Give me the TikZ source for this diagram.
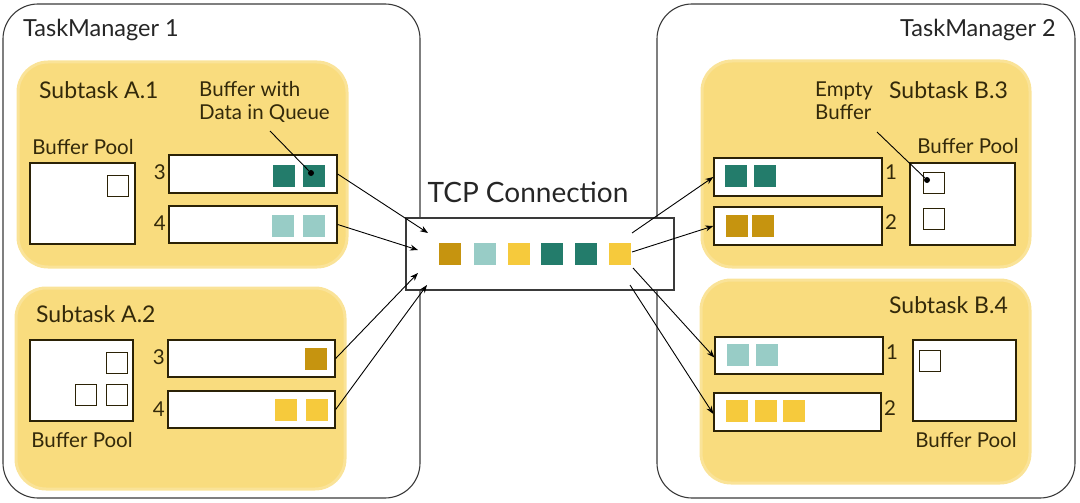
\documentclass[tikz,border=0pt]{standalone}
\usepackage{fontspec}
\setmainfont{Lato}
\usetikzlibrary{fit,arrows.meta}
\definecolor{tmline}{HTML}{3A3A3A}
\definecolor{qline}{HTML}{2B2206}
\definecolor{subyellow}{HTML}{F9DC7E}
\definecolor{txtbrown}{HTML}{33290A}
\definecolor{dteal}{HTML}{237C6B}
\definecolor{lteal}{HTML}{98CCC6}
\definecolor{dgold}{HTML}{C6940F}
\definecolor{ygold}{HTML}{F6CA3C}
\begin{document}
\begin{tikzpicture}[x=1pt,y=-1pt,
  tm/.style={draw=tmline, line width=1.1pt, rounded corners=35pt, inner sep=0pt},
  sub/.style={fill=subyellow, draw=subyellow!80!white, line width=3pt, rounded corners=30pt, inner sep=0pt},
  qbox/.style={draw=qline, fill=white, line width=1.3pt, inner sep=0pt},
  slot/.style={draw=qline, fill=white, line width=1pt, minimum size=21pt, inner sep=0pt},
  dat/.style={minimum size=22pt, inner sep=0pt},
  conn/.style={-{Stealth[length=8pt,width=6pt]}, line width=0.9pt, black},
  big/.style={font=\fontsize{23.5}{28}\selectfont, text=black!85, inner sep=0pt},
  lbl/.style={font=\fontsize{23}{27}\selectfont, text=txtbrown, inner sep=0pt},
  small/.style={font=\fontsize{20.5}{23}\selectfont, text=txtbrown, inner sep=0pt},
  dot/.style={circle, fill=black, minimum size=6pt, inner sep=0pt},
  pointer/.style={line width=0.9pt, black}
]
\useasboundingbox (0,0) rectangle (1080,503);

% TaskManagers
\node[tm, fit={(3,4)(420,498)}] (tm1) {};
\node[tm, fit={(657,4)(1075,498)}] (tm2) {};
\node[big, anchor=west] (tm1l) at (23,30) {TaskManager 1};
\node[big, anchor=east] (tm2l) at (1056,30) {TaskManager 2};

% Subtask boxes
\node[sub, fit={(18,62)(347,267)}] (sa1) {};
\node[sub, fit={(16,288)(345,489)}] (sa2) {};
\node[sub, fit={(702,61)(1030,267)}] (sb3) {};
\node[sub, fit={(701,280)(1030,483)}] (sb4) {};

\node[lbl, anchor=west] (sa1l) at (39,90) {Subtask A.1};
\node[lbl, anchor=west] (sa2l) at (36,314) {Subtask A.2};
\node[lbl, anchor=east] (sb3l) at (1008,90) {Subtask B.3};
\node[lbl, anchor=east] (sb4l) at (1008,305) {Subtask B.4};

% ---------- Subtask A.1
\node[small] (bpa1l) at (83,147) {Buffer Pool};
\node[qbox, fit={(30,163)(135,244)}] (bpa1) {};
\node[slot] (sa1s1) at (118,186) {};
\node[qbox, fit={(169,155)(337,193)}] (qa13) {};
\node[qbox, fit={(169,206)(337,243)}] (qa14) {};
\node[small, anchor=east] (qa13n) at (166,172) {3};
\node[small, anchor=east] (qa14n) at (166,223) {4};
\node[dat, fill=dteal] (a13d1) at (284,176) {};
\node[dat, fill=dteal] (a13d2) at (314,176) {};
\node[dat, fill=lteal] (a14d1) at (283,226) {};
\node[dat, fill=lteal] (a14d2) at (314,226) {};
\node[small, align=left, anchor=north west] (bwd) at (199,81) {Buffer with\\Data in Queue};
\node[dot] (dota) at (311,173) {};
\coordinate (pa) at (270,131);
\draw[pointer] (pa) -- (dota);

% ---------- Subtask A.2
\node[qbox, fit={(30,340)(133,421)}] (bpa2) {};
\node[slot] (sa2s1) at (117,363) {};
\node[slot] (sa2s2) at (86,395) {};
\node[slot] (sa2s3) at (117,395) {};
\node[small] (bpa2l) at (82,440) {Buffer Pool};
\node[qbox, fit={(168,340)(335,377)}] (qa23) {};
\node[qbox, fit={(168,391)(335,428)}] (qa24) {};
\node[small, anchor=east] (qa23n) at (165,357) {3};
\node[small, anchor=east] (qa24n) at (165,409) {4};
\node[dat, fill=dgold] (a23d1) at (316,359) {};
\node[dat, fill=ygold] (a24d1) at (286,410) {};
\node[dat, fill=ygold] (a24d2) at (317,410) {};

% ---------- Subtask B.3
\node[small, align=left, anchor=north west] (ebl) at (815,82) {Empty\\Buffer};
\node[small] (bpb3l) at (968,146) {Buffer Pool};
\node[qbox, fit={(910,163)(1015,245)}] (bpb3) {};
\node[slot] (sb3s1) at (934,183) {};
\node[slot] (sb3s2) at (934,219) {};
\node[qbox, fit={(714,158)(882,196)}] (qb31) {};
\node[qbox, fit={(714,207)(882,245)}] (qb32) {};
\node[small, anchor=west] (qb31n) at (885,172) {1};
\node[small, anchor=west] (qb32n) at (885,222) {2};
\node[dat, fill=dteal] (b31d1) at (736,176) {};
\node[dat, fill=dteal] (b31d2) at (765,176) {};
\node[dat, fill=dgold] (b32d1) at (737,226) {};
\node[dat, fill=dgold] (b32d2) at (763,226) {};
\node[dot] (dotb) at (927,180) {};
\coordinate (pb) at (877,132);
\draw[pointer] (pb) -- (dotb);

% ---------- Subtask B.4
\node[qbox, fit={(913,340)(1016,421)}] (bpb4) {};
\node[slot] (sb4s1) at (930,361) {};
\node[small] (bpb4l) at (966,440) {Buffer Pool};
\node[qbox, fit={(715,337)(883,374)}] (qb41) {};
\node[qbox, fit={(714,393)(881,431)}] (qb42) {};
\node[small, anchor=west] (qb41n) at (886,352) {1};
\node[small, anchor=west] (qb42n) at (884,408) {2};
\node[dat, fill=lteal] (b41d1) at (738,355) {};
\node[dat, fill=lteal] (b41d2) at (767,355) {};
\node[dat, fill=ygold] (b42d1) at (737,411) {};
\node[dat, fill=ygold] (b42d2) at (766,411) {};
\node[dat, fill=ygold] (b42d3) at (794,411) {};

% ---------- TCP connection
\node[font=\fontsize{28}{32}\selectfont, text=black!85, inner sep=0pt] (tcpl) at (528,192) {TCP Connection};
\node[draw=tmline, fill=white, line width=1.1pt, inner sep=0pt, fit={(406,218)(674,290)}] (tcp) {};
\node[dat, fill=dgold] (t1) at (450,254) {};
\node[dat, fill=lteal] (t2) at (485,254) {};
\node[dat, fill=ygold] (t3) at (519,254) {};
\node[dat, fill=dteal] (t4) at (552,254) {};
\node[dat, fill=dteal] (t5) at (586,254) {};
\node[dat, fill=ygold] (t6) at (620,254) {};

% arrows into TCP
\coordinate (ti1) at (428,233);
\coordinate (ti2) at (418,250);
\coordinate (ti3) at (418,273);
\coordinate (ti4) at (427,285);
\draw[conn] (qa13.east) -- (ti1);
\draw[conn] (qa14.east) -- (ti2);
\draw[conn] (qa23.east) -- (ti3);
\draw[conn] (qa24.east) -- (ti4);

% arrows out of TCP
\coordinate (to1) at (632,233);
\coordinate (to2) at (632,252);
\coordinate (to3) at (633,268);
\coordinate (to4) at (630,285);
\draw[conn] (to1) -- (qb31.west);
\draw[conn] (to2) -- (qb32.west);
\draw[conn] (to3) -- ([yshift=-2pt]qb41.west);
\draw[conn] (to4) -- ([yshift=-2pt]qb42.west);
\end{tikzpicture}
\end{document}
